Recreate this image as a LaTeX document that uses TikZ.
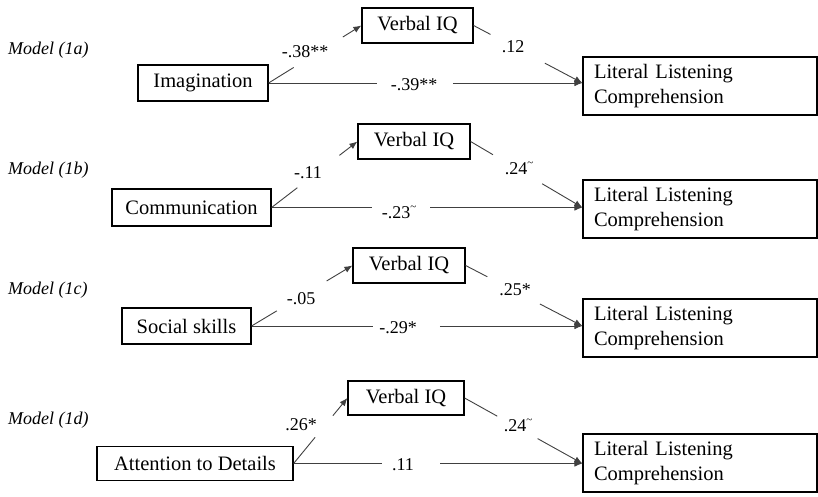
\documentclass[tikz,border=0pt]{standalone}
\usepackage{fontspec}
\setmainfont{Liberation Serif}
\usetikzlibrary{arrows.meta,calc}
\newcommand{\sigt}{\raisebox{0.45em}{\fontsize{11}{11}\selectfont\textasciitilde}}
\tikzset{
  box/.style={draw=black, line width=1.2pt, inner sep=0pt, font=\fontsize{20.5}{24}\selectfont},
  litbox/.style={draw=black, line width=1.2pt, inner xsep=11pt, inner ysep=0pt, minimum height=58pt, text width=212pt, align=left, font=\fontsize{20.5}{25}\selectfont},
  lab/.style={inner sep=0pt, font=\fontsize{18}{20}\selectfont},
  mlab/.style={anchor=west, inner sep=0pt, font=\fontsize{18}{20}\selectfont\itshape},
  ln/.style={draw=black!75, line width=0.9pt},
  arr/.style={ln, -{Latex[length=8pt,width=6.5pt]}},
}
\begin{document}
\begin{tikzpicture}[x=1pt,y=-1pt]
\useasboundingbox (0,0) rectangle (818,496);
% Model 1a
\node[mlab] (m1) at (8,50) {Model (1a)};
\node[box, minimum width=130pt, minimum height=36pt] (i1) at (203,83) {Imagination};
\node[box, minimum width=111pt, minimum height=35pt] (v1) at (417.5,25.5) {Verbal IQ};
\node[litbox] (l1) at (700,86) {Literal Listening\\Comprehension};
\coordinate (t1) at (l1.west |- i1.east);
\draw[ln] (i1.east) -- ($(i1.east)!0.27!(v1.west)$);
\draw[arr] ($(i1.east)!0.80!(v1.west)$) -- (v1.west);
\node[lab] (a1) at (305,52) {-.38**};
\draw[ln] (i1.east) -- ($(i1.east)!0.346!(t1)$);
\draw[arr] ($(i1.east)!0.587!(t1)$) -- (t1);
\node[lab] (c1) at (414,85) {-.39**};
\draw[ln] (v1.east) -- ($(v1.east)!0.155!(t1)$);
\draw[arr] ($(v1.east)!0.655!(t1)$) -- (t1);
\node[lab] (b1) at (513,47) {.12};
% Model 1b
\node[mlab] (m2) at (8,170) {Model (1b)};
\node[box, minimum width=159pt, minimum height=37pt] (i2) at (191.5,207.5) {Communication};
\node[box, minimum width=112pt, minimum height=35pt] (v2) at (414,141.5) {Verbal IQ};
\node[litbox] (l2) at (700,209) {Literal Listening\\Comprehension};
\coordinate (t2) at (l2.west |- i2.east);
\draw[ln] (i2.east) -- ($(i2.east)!0.30!(v2.west)$);
\draw[arr] ($(i2.east)!0.79!(v2.west)$) -- (v2.west);
\node[lab] (a2) at (308,173) {-.11};
\draw[ln] (i2.east) -- ($(i2.east)!0.324!(t2)$);
\draw[arr] ($(i2.east)!0.51!(t2)$) -- (t2);
\node[lab] (c2) at (399,212) {-.23\sigt};
\draw[ln] (v2.east) -- ($(v2.east)!0.2!(t2)$);
\draw[arr] ($(v2.east)!0.64!(t2)$) -- (t2);
\node[lab] (b2) at (519,168) {.24\sigt};
% Model 1c
\node[mlab] (m3) at (8,290) {Model (1c)};
\node[box, minimum width=129pt, minimum height=36pt] (i3) at (186.5,326) {Social skills};
\node[box, minimum width=112pt, minimum height=35pt] (v3) at (409,265.5) {Verbal IQ};
\node[litbox] (l3) at (700,328) {Literal Listening\\Comprehension};
\coordinate (t3) at (l3.west |- i3.east);
\draw[ln] (i3.east) -- ($(i3.east)!0.25!(v3.west)$);
\draw[arr] ($(i3.east)!0.745!(v3.west)$) -- (v3.west);
\node[lab] (a3) at (301,299) {-.05};
\draw[ln] (i3.east) -- ($(i3.east)!0.367!(t3)$);
\draw[arr] ($(i3.east)!0.569!(t3)$) -- (t3);
\node[lab] (c3) at (398,328) {-.29*};
\draw[ln] (v3.east) -- ($(v3.east)!0.186!(t3)$);
\draw[arr] ($(v3.east)!0.636!(t3)$) -- (t3);
\node[lab] (b3) at (515,290) {.25*};
% Model 1d
\node[mlab] (m4) at (8,420) {Model (1d)};
\node[box, minimum width=196pt, minimum height=34pt] (i4) at (195,463.5) {Attention to Details};
\node[box, minimum width=116pt, minimum height=34pt] (v4) at (406,398) {Verbal IQ};
\node[litbox] (l4) at (700,463) {Literal Listening\\Comprehension};
\coordinate (t4) at (l4.west |- i4.east);
\draw[ln] (i4.east) -- ($(i4.east)!0.4!(v4.west)$);
\draw[arr] ($(i4.east)!0.73!(v4.west)$) -- (v4.west);
\node[lab] (a4) at (301,425) {.26*};
\draw[ln] (i4.east) -- ($(i4.east)!0.307!(t4)$);
\draw[arr] ($(i4.east)!0.507!(t4)$) -- (t4);
\node[lab] (c4) at (403,465) {.11};
\draw[ln] (v4.east) -- ($(v4.east)!0.277!(t4)$);
\draw[arr] ($(v4.east)!0.62!(t4)$) -- (t4);
\node[lab] (b4) at (518,425) {.24\sigt};
\end{tikzpicture}
\end{document}
